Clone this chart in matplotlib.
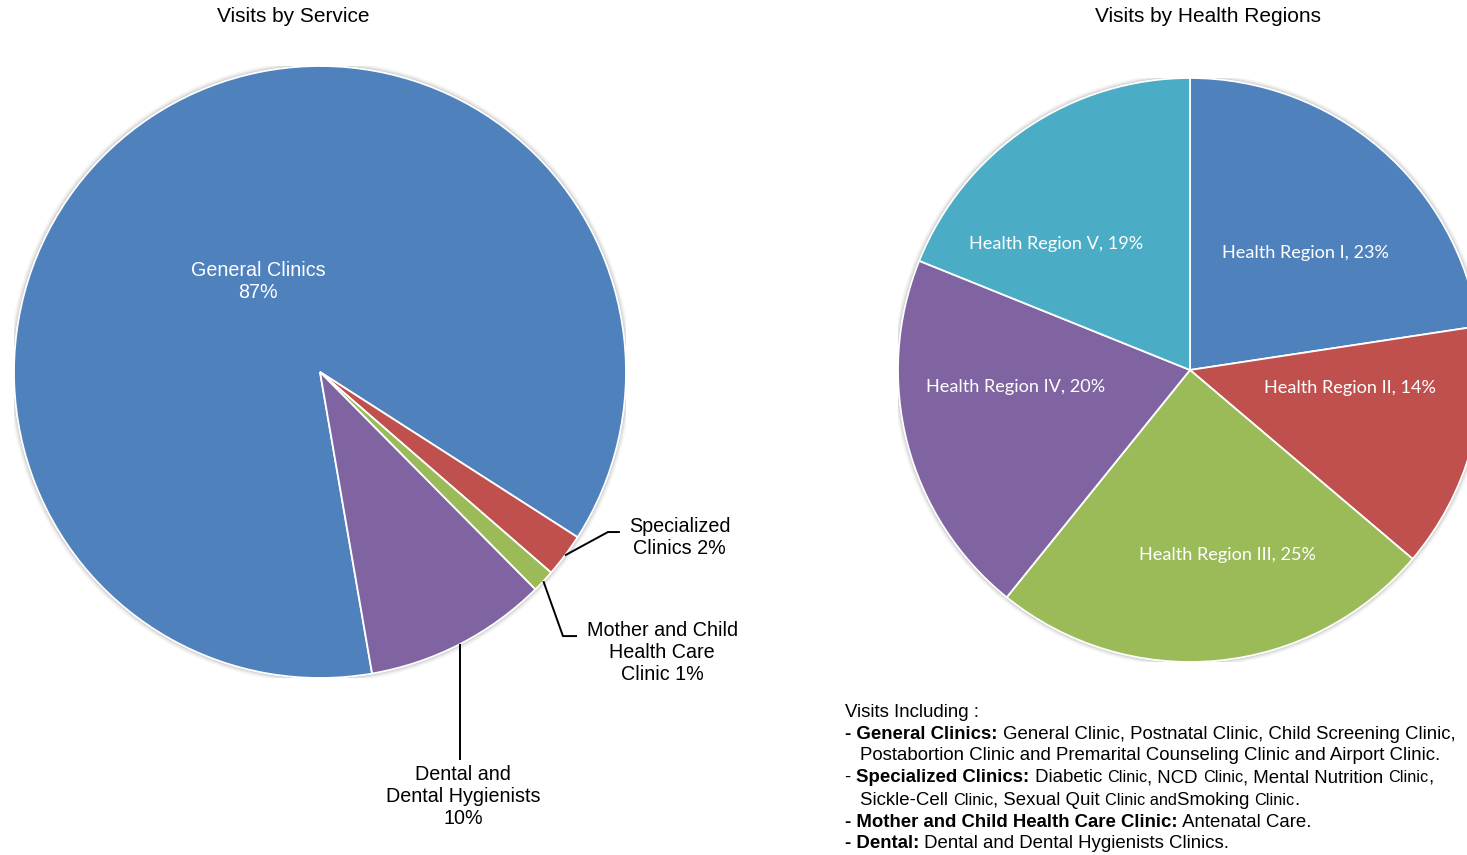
import matplotlib
matplotlib.use('Agg')
import matplotlib.pyplot as plt
import numpy as np
from matplotlib import font_manager
from matplotlib.patches import Circle
from matplotlib.font_manager import FontProperties

# ---------------- data ----------------
service_names = ['General Clinics', 'Specialized\nClinics', 'Mother and Child\nHealth Care\nClinic',
                 'Dental and\nDental Hygienists']
service_seps = ['\n', ' ', ' ', '\n']
service_values = [86.8, 2.3, 1.2, 9.7]
service_colors = ['#4F81BD', '#C0504D', '#9BBB59', '#8064A2']

region_names = ['Health Region I', 'Health Region II', 'Health Region III',
                'Health Region IV', 'Health Region V']
region_values = [22.6, 13.6, 24.6, 20.3, 18.9]
region_colors = ['#4F81BD', '#C0504D', '#9BBB59', '#8064A2', '#4BACC6']

title_left = 'Visits by Service'
title_right = 'Visits by Health Regions'

# ---------------- fonts ----------------
avail = {f.name for f in font_manager.fontManager.ttflist}
arial = 'Liberation Sans' if 'Liberation Sans' in avail else 'DejaVu Sans'
narrow = 'Liberation Sans Narrow' if 'Liberation Sans Narrow' in avail else arial
calib = 'Lato' if 'Lato' in avail else arial

W, H = 1467, 855
fig = plt.figure(figsize=(W / 100, H / 100), dpi=100)
fig.patch.set_facecolor('white')


def pie_axes(cx, cy, r):
    return fig.add_axes([(cx - r) / W, (H - cy - r) / H, 2 * r / W, 2 * r / H])


def shadow(ax):
    for rr, a in [(1.016, 0.10), (1.010, 0.18), (1.005, 0.30)]:
        ax.add_patch(Circle((0, 0), rr, facecolor='#9a9a9a', edgecolor='none', alpha=a, zorder=0))


# ---------------- left pie ----------------
ax1 = pie_axes(320, 372, 306)
shadow(ax1)
wedges1, _ = ax1.pie(service_values, colors=service_colors, startangle=-80.2, counterclock=False,
                     radius=1, wedgeprops=dict(edgecolor='white', linewidth=1.3))
ax1.set_xlim(-1, 1)
ax1.set_ylim(-1, 1)
ax1.axis('off')

tot1 = sum(service_values)
pct1 = [f"{v / tot1 * 100:.0f}%" for v in service_values]
lab1 = [n + s + p for n, s, p in zip(service_names, service_seps, pct1)]

# General clinics label (inside)
ax1.text(-0.203, 0.297, lab1[0], ha='center', va='center', color='white', fontsize=14.2,
         family=arial, linespacing=1.2)

# outside labels with leader lines: (elbow, end, text position)
leaders = [
    ((0.941, -0.523), (0.980, -0.523), (1.176, -0.542)),
    ((0.794, -0.863), (0.840, -0.863), (1.118, -0.918)),
    ((0.455, -1.268), (0.455, -1.268), (0.467, -1.386)),
]
for i, (elb, end, tp) in zip([1, 2, 3], leaders):
    w = wedges1[i]
    mid = np.deg2rad((w.theta1 + w.theta2) / 2)
    p0 = (np.cos(mid), np.sin(mid))
    if i == 3:
        elb = (p0[0], elb[1])
        end = elb
    ax1.plot([p0[0], elb[0], end[0]], [p0[1], elb[1], end[1]], color='black', lw=1.4,
             clip_on=False, solid_capstyle='butt')
    ax1.text(tp[0], tp[1], lab1[i], ha='center', va='center', color='black', fontsize=14.2,
             family=arial, linespacing=1.2)

# ---------------- right pie ----------------
ax2 = pie_axes(1190, 370, 292)
shadow(ax2)
wedges2, _ = ax2.pie(region_values, colors=region_colors, startangle=90, counterclock=False,
                     radius=1, wedgeprops=dict(edgecolor='white', linewidth=1.3))
ax2.set_xlim(-1, 1)
ax2.set_ylim(-1, 1)
ax2.axis('off')

tot2 = sum(region_values)
lab2 = [f"{n}, {v / tot2 * 100:.0f}%" for n, v in zip(region_names, region_values)]
region_label_pos = [(0.397, 0.401), (0.548, -0.062), (0.127, -0.634), (-0.596, -0.058), (-0.459, 0.432)]
for t, (x, y) in zip(lab2, region_label_pos):
    ax2.text(x, y, t, ha='center', va='center', color='white', fontsize=13.1, family=calib)

# ---------------- titles ----------------
fig.text(293 / W, 1 - 17 / H, title_left, ha='center', va='center', fontsize=15, family=arial)
fig.text(1208 / W, 1 - 16 / H, title_right, ha='center', va='center', fontsize=15, family=arial)

# ---------------- notes block ----------------
renderer = fig.canvas.get_renderer()
NS = 13.45
SS = 11.7


def text_width(s, prop):
    w1, _, _ = renderer.get_text_width_height_descent(s + '|', prop, ismath=False)
    w2, _, _ = renderer.get_text_width_height_descent('|', prop, ismath=False)
    return w1 - w2


def runs(x, y, items):
    for s, weight, size in items:
        prop = FontProperties(family=narrow, weight=weight, size=size)
        fig.text(x / W, 1 - y / H, s, fontproperties=prop, ha='left', va='baseline', color='black')
        x += text_width(s, prop)


n, b = 'normal', 'bold'
notes = [
    (845, 717, [('Visits Including :', n, NS)]),
    (845, 739, [('- General Clinics:', b, NS), (' General Clinic, Postnatal Clinic, Child Screening Clinic,', n, NS)]),
    (860, 760, [('Postabortion Clinic and Premarital Counseling Clinic and Airport Clinic.', n, NS)]),
    (845, 782, [('- ', n, NS), ('Specialized Clinics:', b, NS), (' Diabetic ', n, NS), ('Clinic', n, SS),
                (', NCD ', n, NS), ('Clinic', n, SS), (', Mental Nutrition ', n, NS), ('Clinic', n, SS),
                (',', n, NS)]),
    (860, 805, [('Sickle-Cell ', n, NS), ('Clinic', n, SS), (', Sexual Quit ', n, NS), ('Clinic and', n, SS),
                ('Smoking ', n, NS), ('Clinic', n, SS), ('.', n, NS)]),
    (845, 827, [('- Mother and Child Health Care Clinic:', b, NS), (' Antenatal Care.', n, NS)]),
    (845, 848, [('- Dental:', b, NS), (' Dental and Dental Hygienists Clinics.', n, NS)]),
]
for x, y, items in notes:
    runs(x, y, items)

fig.savefig('out.png', dpi=100, facecolor='white')
